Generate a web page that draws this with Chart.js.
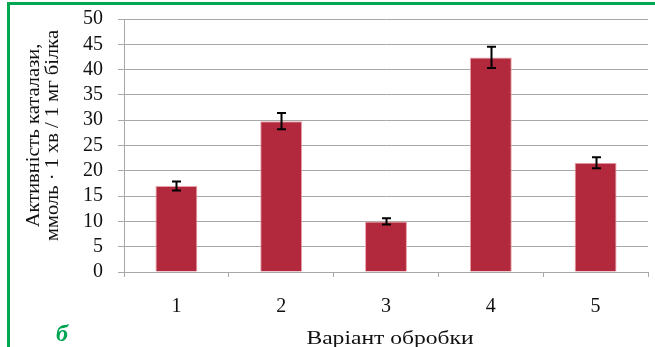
<!DOCTYPE html>
<html>
<head>
<meta charset="utf-8">
<script src="https://cdn.jsdelivr.net/npm/chart.js@4/dist/chart.umd.min.js"></script>
<style>
  html, body { margin: 0; padding: 0; background: #fff; }
  #wrap { position: relative; width: 655px; height: 347px; overflow: hidden; }
  #frame { position: absolute; left: 7px; top: 2px; width: 700px; height: 400px;
           border-left: 3px solid #00a651; border-top: 3px solid #00a651; box-sizing: border-box; }
  #panel { position: absolute; left: 56px; top: 318px; font: italic bold 24px "Liberation Serif", serif;
           color: #00a651; line-height: 30px; }
  canvas { position: absolute; left: 0; top: 0; }
</style>
</head>
<body>
<div id="wrap">
  <div id="frame"></div>
  <canvas id="c" width="655" height="347"></canvas>
  <div id="panel">б</div>
</div>
<script>
// Catalase activity by treatment variant, mean ± error
const categories = ['1', '2', '3', '4', '5'];
const activity = [17.0, 29.8, 10.0, 42.4, 21.6];
const errors = [0.9, 1.6, 0.6, 2.1, 1.1];
const yTitle = ['Активність каталази,', 'ммоль · 1 хв / 1 мг білка'];
const xTitle = 'Варіант обробки';

const gridGray = '#a8a8a8';
const serif = '"Liberation Serif", "Times New Roman", serif';

// Vertical error bars with caps, positioned through the chart's scales
const errorBars = {
  id: 'errorBars',
  afterDatasetsDraw(chart) {
    const { ctx, scales: { y } } = chart;
    const meta = chart.getDatasetMeta(0);
    ctx.save();
    ctx.strokeStyle = '#000';
    ctx.lineWidth = 2;
    meta.data.forEach((bar, i) => {
      const v = activity[i], e = errors[i];
      const cx = Math.round(bar.x) + 0.5;
      const yTop = y.getPixelForValue(v + e);
      const yBot = y.getPixelForValue(v - e);
      const cap = 4.5;
      ctx.beginPath();
      ctx.moveTo(cx, yTop); ctx.lineTo(cx, yBot);
      ctx.moveTo(cx - cap, yTop); ctx.lineTo(cx + cap, yTop);
      ctx.moveTo(cx - cap, yBot); ctx.lineTo(cx + cap, yBot);
      ctx.stroke();
    });
    ctx.restore();
  }
};

// Axis titles in a slightly widened serif face
const axisTitles = {
  id: 'axisTitles',
  afterDraw(chart) {
    const { ctx, chartArea } = chart;
    ctx.save();
    ctx.fillStyle = '#111';
    ctx.textAlign = 'center';
    ctx.textBaseline = 'middle';

    // y title: two rotated lines
    ctx.font = '18px ' + serif;
    const cy = (chartArea.top + chartArea.bottom) / 2 - 10;
    yTitle.forEach((line, i) => {
      ctx.save();
      ctx.translate(34 + i * 19, cy);
      ctx.rotate(-Math.PI / 2);
      ctx.scale(1.14, 1);
      ctx.fillText(line, 0, 0);
      ctx.restore();
    });

    // x title
    ctx.font = '19px ' + serif;
    ctx.textBaseline = 'alphabetic';
    ctx.save();
    ctx.translate((chartArea.left + chartArea.right) / 2 + 4, 344);
    ctx.scale(1.24, 1);
    ctx.fillText(xTitle, 0, 0);
    ctx.restore();

    ctx.restore();
  }
};

new Chart(document.getElementById('c'), {
  type: 'bar',
  data: {
    labels: categories,
    datasets: [{
      data: activity,
      backgroundColor: '#b2283d',
      borderColor: '#e9a3a6',
      borderWidth: 1,
      barPercentage: 0.4,
      categoryPercentage: 1.0
    }]
  },
  options: {
    responsive: false,
    animation: false,
    events: [],
    layout: { padding: { left: 18, right: 7, top: 19, bottom: 0 } },
    plugins: { legend: { display: false }, tooltip: { enabled: false } },
    scales: {
      x: {
        grid: { display: true, drawOnChartArea: false, drawTicks: true, tickLength: 5,
                color: gridGray, offset: true },
        border: { display: true, color: gridGray, width: 1 },
        ticks: { color: '#111', padding: 18, font: { family: serif, size: 20 } },
        afterFit(scale) { scale.height = 75; scale.paddingLeft = 0; scale.paddingRight = 0; }
      },
      y: {
        min: 0, max: 50,
        ticks: { stepSize: 5, autoSkip: false, color: '#111', padding: 15,
                 font: { family: serif, size: 20 } },
        grid: { color: gridGray, tickLength: 6, drawTicks: true },
        border: { display: true, color: gridGray, width: 1 },
        afterFit(scale) { scale.width = 106; scale.paddingTop = 0; scale.paddingBottom = 0; }
      }
    }
  },
  plugins: [errorBars, axisTitles]
});
</script>
</body>
</html>
